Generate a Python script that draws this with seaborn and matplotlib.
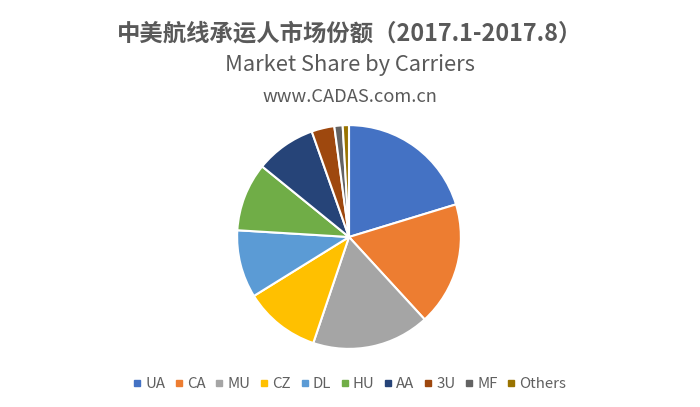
import matplotlib
matplotlib.use("Agg")
import matplotlib.pyplot as plt
from matplotlib.lines import Line2D
import seaborn as sns

carriers = ["UA", "CA", "MU", "CZ", "DL", "HU", "AA", "3U", "MF", "Others"]
shares = [20.3, 17.9, 17.0, 11.0, 9.8, 9.9, 8.75, 3.3, 1.2, 0.9]
colors = ["#4472C4", "#ED7D31", "#A5A5A5", "#FFC000", "#5B9BD5",
          "#70AD47", "#264478", "#9E480E", "#636363", "#997300"]

title_cn = "中美航线承运人市场份额（2017.1-2017.8）"
subtitle = "Market Share by Carriers"
source = "www.CADAS.com.cn"

sns.set_theme(style="white")
plt.rcParams['font.family'] = ['Noto Sans CJK SC', 'DejaVu Sans']

palette = sns.color_palette(colors)

fig = plt.figure(figsize=(7.0, 4.07), dpi=100)
fig.patch.set_facecolor("white")

ax = fig.add_axes([236/700, 1-350/407, 226/700, 226/407])
wedges, _ = ax.pie(shares, colors=palette, startangle=90, counterclock=False,
                   radius=1.0,
                   wedgeprops=dict(edgecolor="white", linewidth=1.5))
ax.set_xlim(-1.01, 1.01)
ax.set_ylim(-1.01, 1.01)
ax.set_aspect("equal")
ax.axis("off")

gray = "#595959"
fig.text(0.5, 1-33/407, title_cn, ha="center", va="center",
         fontsize=16.8, fontweight="bold", color=gray)
fig.text(0.5, 1-65/407, subtitle, ha="center", va="center",
         fontsize=15.8, color=gray)
fig.text(0.5, 1-97/407, source, ha="center", va="center",
         fontsize=13.2, color=gray)

handles = [Line2D([0], [0], marker="s", linestyle="none", markersize=4,
                  markerfacecolor=c, markeredgecolor=c) for c in palette]
fig.legend(handles, carriers, loc="center", bbox_to_anchor=(0.5, 1-384/407),
           ncol=len(carriers), frameon=False, fontsize=10.8,
           handlelength=0.5, handletextpad=0.3, columnspacing=0.65,
           labelcolor="#606060")

fig.savefig("out.png", dpi=100, facecolor="white")
